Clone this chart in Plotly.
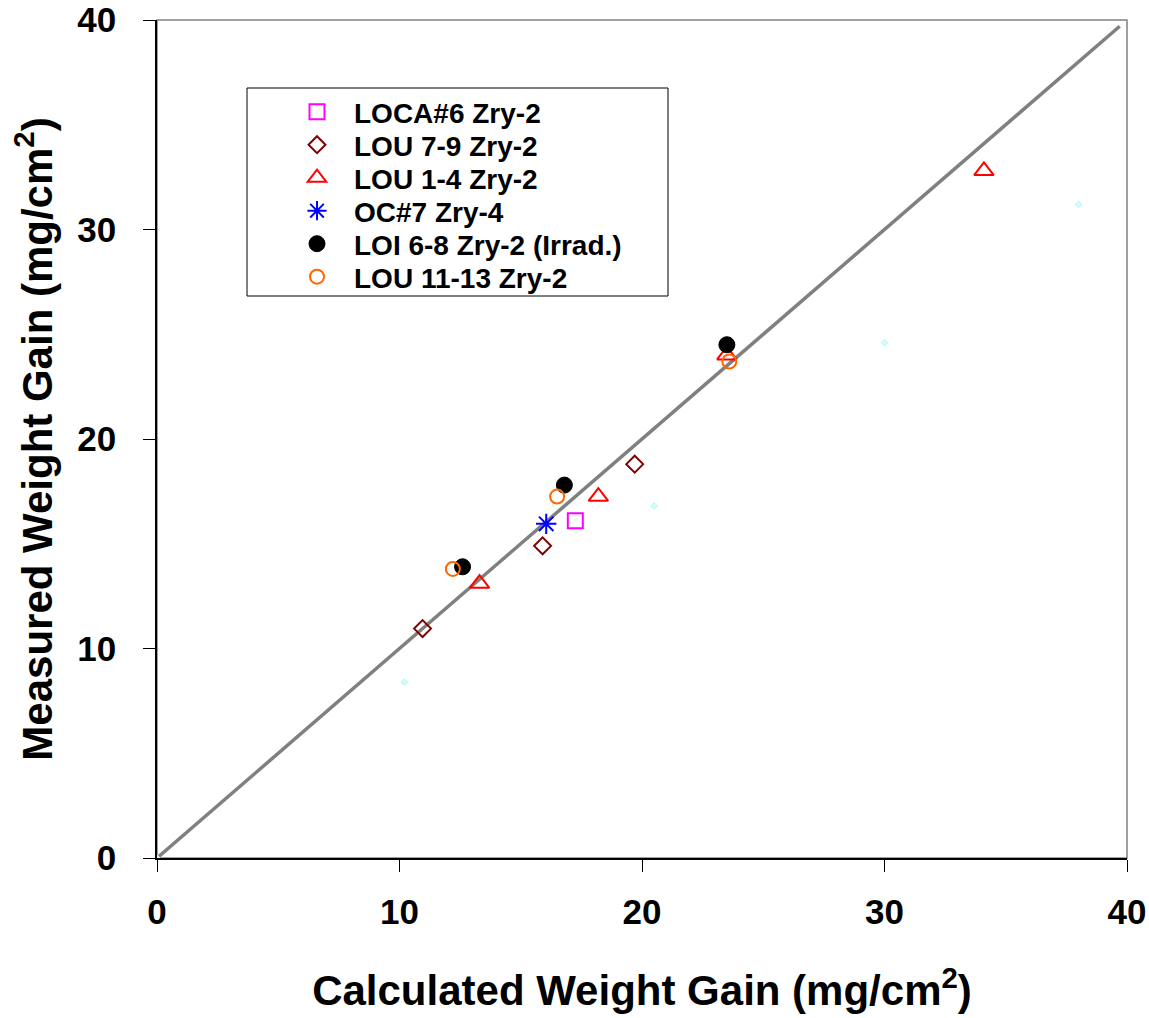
import plotly.graph_objects as go

# ---- data ----
loca6_x = [17.25]
loca6_y = [16.1]

lou79_x = [10.95, 15.9, 19.7]
lou79_y = [10.95, 14.9, 18.8]

lou14_x = [13.3, 18.2, 23.5, 34.1]
lou14_y = [13.1, 17.25, 24.0, 32.8]

oc7_x = [16.05]
oc7_y = [15.95]

loi68_x = [12.6, 16.8, 23.5]
loi68_y = [13.9, 17.8, 24.5]

lou1113_x = [12.2, 16.5, 23.6]
lou1113_y = [13.8, 17.25, 23.7]

faint_x = [0.0, 10.2, 20.5, 30.0, 38.0]
faint_y = [0.0, 8.4, 16.8, 24.6, 31.2]

line_x = [0.0, 39.7]
line_y = [0.0, 39.7]

x_ticks = [0, 10, 20, 30, 40]
y_ticks = [0, 10, 20, 30, 40]

FONT = "Liberation Sans, Arial, sans-serif"

series = [
    ("LOCA#6 Zry-2", loca6_x, loca6_y, "square-open", 15, "#ff00ff"),
    ("LOU 7-9 Zry-2", lou79_x, lou79_y, "diamond-open", 13, "#800000"),
    ("LOU 1-4 Zry-2", lou14_x, lou14_y, "triangle-up-open", 17, "#ff0000"),
    ("OC#7 Zry-4", oc7_x, oc7_y, "asterisk-open", 17, "#0000ff"),
    ("LOI 6-8 Zry-2 (Irrad.)", loi68_x, loi68_y, "circle", 16, "#000000"),
    ("LOU 11-13 Zry-2", lou1113_x, lou1113_y, "circle-open", 14, "#ff6600"),
]

# plot area in page px: x 157..1127, y 20..858 (body margin removed below)
PLOT_TOP = 20
PLOT_H = 838
PLOT_W = 970

fig = go.Figure()

fig.add_trace(go.Scatter(x=line_x, y=line_y, mode="lines",
                         line=dict(color="#808080", width=3.5), showlegend=False, hoverinfo="skip"))
fig.add_trace(go.Scatter(x=faint_x, y=faint_y, mode="markers",
                         marker=dict(symbol="diamond", size=5, color="#ccffff",
                                     line=dict(color="#b3f5f5", width=1)),
                         showlegend=False))

# one legend per row so the row pitch matches the reference
row_top_px = [87 + 33 * i for i in range(len(series))]
legend_layouts = {}
for i, (name, xs, ys, sym, sz, col) in enumerate(series):
    lname = "legend" if i == 0 else f"legend{i + 1}"
    fig.add_trace(go.Scatter(x=xs, y=ys, mode="markers", name=name, legend=lname,
                             marker=dict(symbol=sym, size=sz, color=col,
                                         line=dict(color=col, width=2 if "open" in sym else 1))))
    ytop = 1 - (row_top_px[i] - PLOT_TOP) / PLOT_H
    legend_layouts[lname] = dict(
        x=(280 - 157) / PLOT_W, y=ytop, xanchor="left", yanchor="top",
        bgcolor="rgba(0,0,0,0)", borderwidth=0,
        font=dict(family=FONT, size=28, color="black", weight="bold"),
        itemwidth=64,
    )

box_l, box_r, box_t, box_b = 247, 668, 88, 296

fig.update_layout(
    width=1149, height=1018,
    margin=dict(l=157, r=22, t=20, b=160, autoexpand=False),
    paper_bgcolor="white", plot_bgcolor="white",
    font=dict(family=FONT, color="black"),
    showlegend=True,
    shapes=[
        dict(type="rect", xref="paper", yref="paper", x0=0, x1=1, y0=0, y1=1,
             line=dict(color="#808080", width=1.5), layer="below"),
        dict(type="rect", xref="paper", yref="paper",
             x0=(box_l - 157) / PLOT_W, x1=(box_r - 157) / PLOT_W,
             y0=1 - (box_b - PLOT_TOP) / PLOT_H, y1=1 - (box_t - PLOT_TOP) / PLOT_H,
             line=dict(color="black", width=1), fillcolor="rgba(0,0,0,0)", layer="above"),
    ],
    **legend_layouts,
)

fig.update_xaxes(
    range=[0, 40], tickvals=x_ticks, ticktext=[str(v) for v in x_ticks],
    showgrid=False, zeroline=False, showline=True, linecolor="black", linewidth=1.5,
    ticks="outside", ticklen=12, tickcolor="black", tickwidth=1,
    ticklabelstandoff=10, automargin=False, ticklabeloverflow="allow",
    tickfont=dict(family=FONT, size=35, color="black", weight="bold"),
    title=dict(text="Calculated Weight Gain (mg/cm<sup>2</sup>)", standoff=46,
               font=dict(family=FONT, size=42, color="black", weight="bold")),
)
fig.update_yaxes(
    range=[0, 40], tickvals=y_ticks, ticktext=[str(v) for v in y_ticks],
    showgrid=False, zeroline=False, showline=True, linecolor="black", linewidth=1.5,
    ticks="outside", ticklen=12, tickcolor="black", tickwidth=1,
    ticklabelstandoff=20, automargin=False, ticklabeloverflow="allow",
    tickfont=dict(family=FONT, size=35, color="black", weight="bold"),
    title=dict(text="Measured Weight Gain (mg/cm<sup>2</sup>)", standoff=12,
               font=dict(family=FONT, size=42, color="black", weight="bold")),
)

fig.write_html("out.html",
               config={"displayModeBar": False},
               post_script="document.body.style.margin='0';document.body.style.overflow='hidden';")
